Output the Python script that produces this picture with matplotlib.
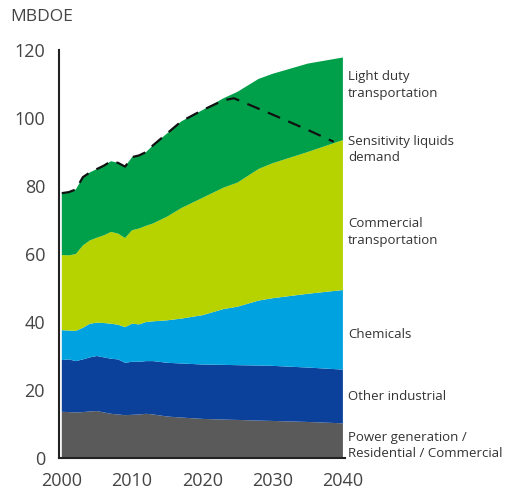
import matplotlib
matplotlib.use('Agg')
import matplotlib.pyplot as plt
import numpy as np

plt.rcParams['font.family'] = ['Open Sans', 'DejaVu Sans']

# years and layer tops (MBDOE, cumulative)
years = [2000, 2001, 2002, 2003, 2004, 2005, 2006, 2007, 2008, 2009, 2010, 2011,
         2012, 2013, 2015, 2017, 2020, 2023, 2025, 2028, 2030, 2035, 2040]
top_power = [13.6, 13.5, 13.4, 13.5, 13.7, 13.8, 13.4, 13.0, 12.8, 12.6, 12.7, 12.8,
             13.0, 12.8, 12.2, 11.9, 11.5, 11.3, 11.2, 11.0, 10.9, 10.6, 10.2]
top_industrial = [28.8, 29.0, 28.5, 29.0, 29.6, 30.0, 29.6, 29.2, 29.0, 28.0, 28.3, 28.3,
                  28.5, 28.5, 28.0, 27.8, 27.5, 27.4, 27.3, 27.2, 27.1, 26.6, 26.0]
top_chemicals = [37.6, 37.5, 37.4, 38.3, 39.5, 39.8, 39.7, 39.5, 39.2, 38.5, 39.5, 39.3,
                 40.0, 40.2, 40.5, 41.0, 42.0, 43.8, 44.5, 46.3, 47.0, 48.3, 49.4]
top_commercial = [59.7, 59.6, 60.0, 62.5, 64.0, 64.8, 65.5, 66.5, 66.0, 64.7, 67.0, 67.5,
                  68.3, 69.0, 71.0, 73.5, 76.5, 79.5, 81.0, 85.0, 86.7, 90.0, 93.5]
top_light = [77.9, 78.2, 79.0, 82.6, 84.0, 85.0, 86.0, 87.3, 86.8, 85.7, 88.5, 89.0,
             90.0, 92.0, 95.5, 99.0, 102.3, 105.8, 107.7, 111.5, 113.0, 116.0, 117.8]

# sensitivity liquids demand (dashed)
sens_years = [2000, 2001, 2002, 2003, 2004, 2005, 2006, 2007, 2008, 2009, 2010, 2011,
              2012, 2013, 2015, 2017, 2020, 2023, 2024.5, 2030, 2035, 2038.7]
sens_vals = [77.9, 78.2, 79.0, 82.6, 84.0, 85.0, 86.0, 87.3, 86.8, 85.7, 88.5, 89.0,
             90.0, 92.0, 95.5, 99.0, 102.3, 105.2, 105.8, 101.0, 96.5, 93.0]

labels = ['Power generation /\nResidential / Commercial', 'Other industrial', 'Chemicals',
          'Commercial\ntransportation', 'Light duty\ntransportation']
colors = ['#5a5a5a', '#0b419b', '#00a2e0', '#b6d300', '#00a04b']
label_y = [3.7, 18, 36.2, 66.5, 109.7]

tops = np.array([top_power, top_industrial, top_chemicals, top_commercial, top_light])
layers = np.vstack([tops[0], np.diff(tops, axis=0)])

fig = plt.figure(figsize=(5.14, 4.95), dpi=100)
ax = fig.add_axes([59 / 514, 37 / 495, 286 / 514, 408 / 495])

ax.stackplot(years, layers, colors=colors, linewidth=0)
ax.plot(sens_years, sens_vals, color='#111111', lw=1.6, dashes=(6, 4))

ax.set_xlim(1999.6, 2040.3)
ax.set_ylim(0, 120)
ax.set_xticks([2000, 2010, 2020, 2030, 2040])
ax.set_yticks([0, 20, 40, 60, 80, 100, 120])
ax.tick_params(length=0, labelsize=13, colors='#444444')
ax.tick_params(axis='y', pad=10)
ax.tick_params(axis='x', pad=10)
for s in ['top', 'right']:
    ax.spines[s].set_visible(False)
for s in ['left', 'bottom']:
    ax.spines[s].set_color('#222222')
    ax.spines[s].set_linewidth(1.5)

for lab, yv in zip(labels, label_y):
    ax.text(1.011, yv, lab, transform=ax.get_yaxis_transform(), fontsize=9.5,
            color='#333333', va='center', ha='left', linespacing=1.35)
ax.text(1.011, 90.7, 'Sensitivity liquids\ndemand', transform=ax.get_yaxis_transform(),
        fontsize=9.5, color='#333333', va='center', ha='left', linespacing=1.35)

fig.text(10 / 514, 1 - 17 / 495, 'MBDOE', fontsize=12.5, color='#444444', va='center', ha='left')

fig.savefig('out.png', dpi=100)
